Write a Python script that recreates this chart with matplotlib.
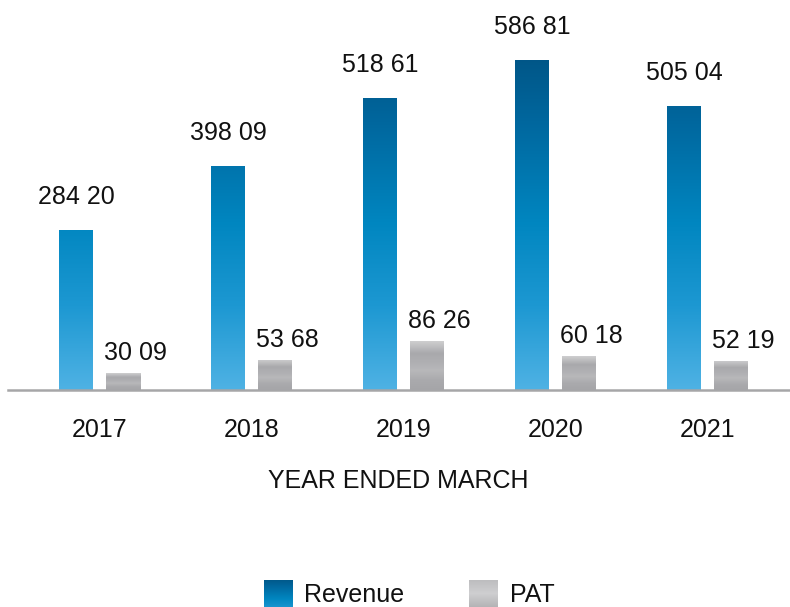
import numpy as np
import matplotlib
matplotlib.use("Agg")
import matplotlib.pyplot as plt
from matplotlib.colors import LinearSegmentedColormap

years = ["2017", "2018", "2019", "2020", "2021"]
revenue = [284.20, 398.09, 518.61, 586.81, 505.04]
pat = [30.09, 53.68, 86.26, 60.18, 52.19]
revenue_labels = ["284 20", "398 09", "518 61", "586 81", "505 04"]
pat_labels = ["30 09", "53 68", "86 26", "60 18", "52 19"]
xlabel = "YEAR ENDED MARCH"
series_names = ["Revenue", "PAT"]

plt.rcParams['font.family'] = ['Liberation Sans', 'DejaVu Sans']

W, H = 790, 607
fig = plt.figure(figsize=(W / 100, H / 100), dpi=100)
ax = fig.add_axes([8 / W, (H - 390) / H, 782 / W, 390 / H])
ymax = 390 / 0.5625
XLIM = (-0.602, -0.602 + 782 / 152)
for s in ["top", "right", "left"]:
    ax.spines[s].set_visible(False)
ax.spines["bottom"].set_color("#a6a6a8")
ax.spines["bottom"].set_linewidth(1.8)
ax.set_yticks([])
ax.tick_params(axis="x", length=0, pad=20.5, labelsize=18, labelcolor="#111111")
x = np.arange(len(years))
ax.set_xticks(x)
ax.set_xticklabels(years)

blue_cmap = LinearSegmentedColormap.from_list(
    "blue", [(0.0, "#4fb2e4"), (0.25, "#1d98d2"), (0.5, "#0086c0"), (0.8, "#00679e"), (1.0, "#005586")])
gray_cmap = LinearSegmentedColormap.from_list(
    "gray", [(0.0, "#a5a5a8"), (0.2, "#aaaaad"), (0.4, "#b8b8ba"), (0.55, "#b0b0b3"), (0.75, "#a9a9ac"), (1.0, "#cfcfd0")])
gray_legend_cmap = LinearSegmentedColormap.from_list(
    "gray_leg", [(0.0, "#b4b4b6"), (0.5, "#cfcfd1"), (1.0, "#bdbdbf")])

bw = 34 / 152
off = 23.5 / 152

rev_bars = ax.bar(x - off, revenue, bw, color="none", edgecolor="none")
pat_bars = ax.bar(x + off, pat, bw, color="none", edgecolor="none")

grad = np.linspace(0, 1, 256).reshape(-1, 1)
for b in rev_bars:
    x0, w = b.get_x(), b.get_width()
    im = ax.imshow(grad, cmap=blue_cmap, origin="lower", aspect="auto",
                   extent=[x0, x0 + w, 0, 0.86 * ymax], zorder=2)
    im.set_clip_path(b)
for b in pat_bars:
    x0, w, h = b.get_x(), b.get_width(), b.get_height()
    im = ax.imshow(grad, cmap=gray_cmap, origin="lower", aspect="auto",
                   extent=[x0, x0 + w, 0, h], zorder=2)
    im.set_clip_path(b)
ax.set_xlim(*XLIM)
ax.set_ylim(0, ymax)

for b, lab in zip(rev_bars, revenue_labels):
    ax.annotate(lab, (b.get_x() + b.get_width() / 2, b.get_height()),
                xytext=(0, 26 * 0.72), textcoords="offset points",
                ha="center", va="baseline", fontsize=18, color="#111111")
for b, lab in zip(pat_bars, pat_labels):
    ax.annotate(lab, (b.get_x(), b.get_height()),
                xytext=(-2 * 0.72, 13 * 0.72), textcoords="offset points",
                ha="left", va="baseline", fontsize=18, color="#111111")

fig.text(398 / W, 1 - 481 / H, xlabel, ha="center", va="center", fontsize=18, color="#111111")

# legend
for (px, cmap, name, tx, lo, hi) in [(264, blue_cmap, series_names[0], 304, 0.3, 0.95),
                                     (469, gray_legend_cmap, series_names[1], 510, 0.0, 1.0)]:
    lax = fig.add_axes([px / W, (H - 607) / H, 29 / W, 27 / H])
    g = np.linspace(lo, hi, 64).reshape(-1, 1)
    lax.imshow(g, cmap=cmap, origin="lower", aspect="auto", vmin=0, vmax=1)
    lax.axis("off")
    fig.text(tx / W, 1 - 595 / H, name, ha="left", va="center", fontsize=18, color="#111111")

fig.savefig("out.png", dpi=100)
